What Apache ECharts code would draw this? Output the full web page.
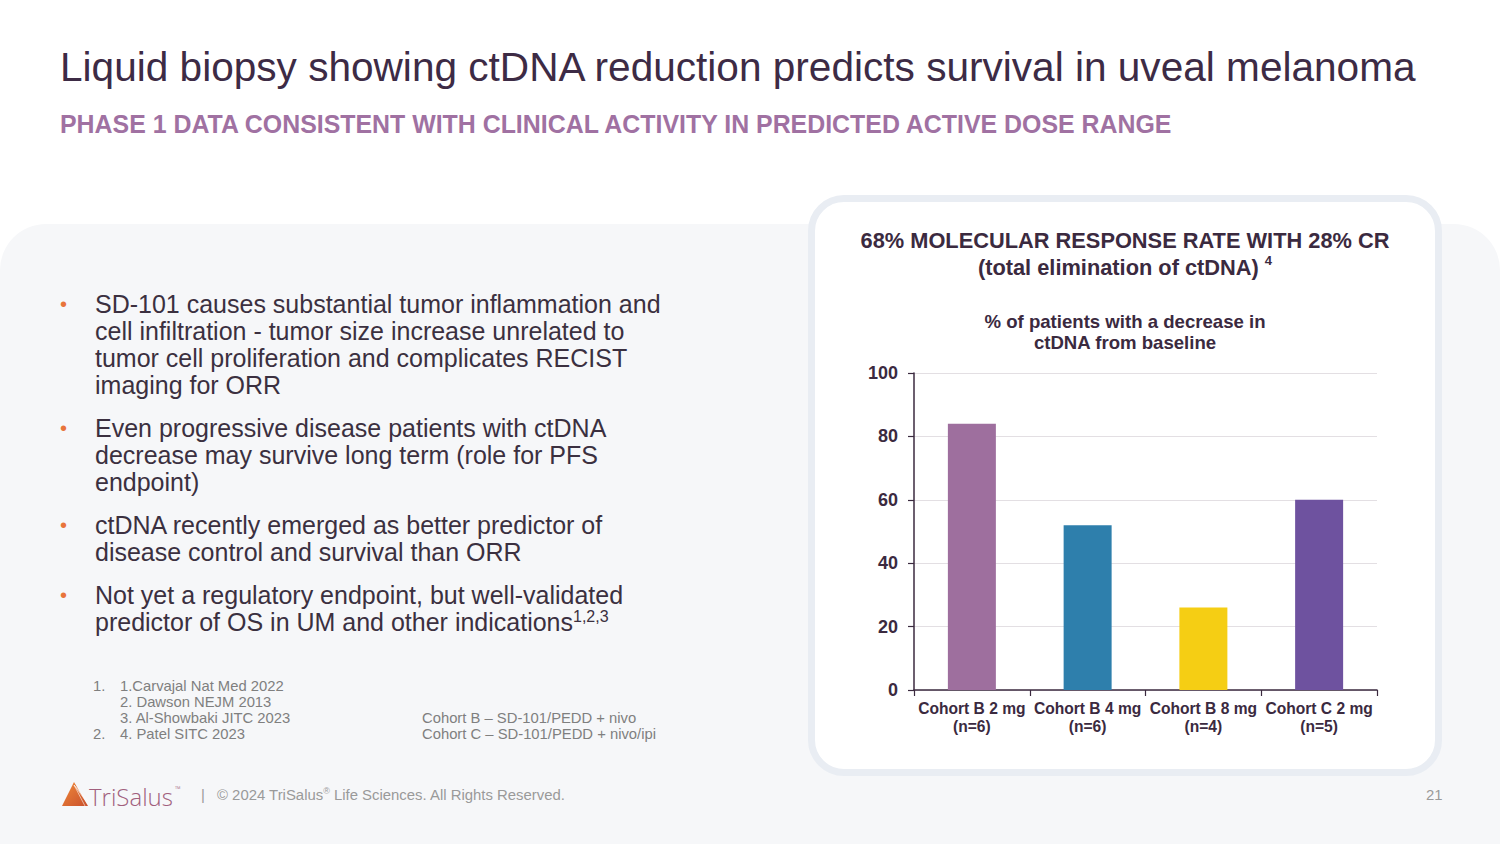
<!DOCTYPE html>
<html>
<head>
<meta charset="utf-8">
<script src="https://cdn.jsdelivr.net/npm/echarts@6/dist/echarts.min.js"></script>
<style>
  html, body { margin:0; padding:0; }
  body { width:1500px; height:844px; position:relative; overflow:hidden; background:#ffffff; font-family:"Liberation Sans", Arial, sans-serif; }
  .panel { position:absolute; left:0; top:224px; width:1500px; height:660px; background:#f6f7f9; border-radius:46px 46px 0 0; }
  .card { position:absolute; left:808px; top:195px; width:620px; height:567px; background:#ffffff; border:7px solid #e9edf3; border-radius:36px; }
  .title { position:absolute; left:60px; top:44px; font-size:40.6px; color:#3d2b45; white-space:nowrap; }
  .subtitle { position:absolute; left:60px; top:110px; font-size:24.9px; font-weight:bold; color:#a071a2; white-space:nowrap; letter-spacing:0px; }
  .bullets { position:absolute; left:60px; top:291px; width:700px; font-size:25px; line-height:27px; color:#3b3040; white-space:nowrap; }
  .b { position:relative; padding-left:35px; margin-bottom:16px; }
  .b::before { content:"•"; position:absolute; left:0; top:0; color:#e8743b; font-size:20px; }
  sup { font-size:16px; line-height:0; vertical-align:9px; }
  .fn { position:absolute; font-size:14.8px; line-height:16px; color:#7f7f7f; white-space:nowrap; }
  .footer { position:absolute; top:787px; font-size:14.9px; color:#9a9a9a; white-space:nowrap; }
  #chart { position:absolute; left:815px; top:200px; width:620px; height:568px; }
</style>
</head>
<body>
<div class="panel"></div>
<div class="card"></div>
<div class="title">Liquid biopsy showing ctDNA reduction predicts survival in uveal melanoma</div>
<div class="subtitle">PHASE 1 DATA CONSISTENT WITH CLINICAL ACTIVITY IN PREDICTED ACTIVE DOSE RANGE</div>
<div class="bullets">
  <div class="b">SD-101 causes substantial tumor inflammation and<br>cell infiltration - tumor size increase unrelated to<br>tumor cell proliferation and complicates RECIST<br>imaging for ORR</div>
  <div class="b">Even progressive disease patients with ctDNA<br>decrease may survive long term (role for PFS<br>endpoint)</div>
  <div class="b">ctDNA recently emerged as better predictor of<br>disease control and survival than ORR</div>
  <div class="b">Not yet a regulatory endpoint, but well-validated<br>predictor of OS in UM and other indications<sup>1,2,3</sup></div>
</div>
<div class="fn" style="left:93px; top:678px;">1.</div>
<div class="fn" style="left:120px; top:678px;">1.Carvajal Nat Med 2022<br>2. Dawson NEJM 2013<br>3. Al-Showbaki JITC 2023<br>4. Patel SITC 2023</div>
<div class="fn" style="left:93px; top:726px;">2.</div>
<div class="fn" style="left:422px; top:710px;">Cohort B – SD-101/PEDD + nivo<br>Cohort C – SD-101/PEDD + nivo/ipi</div>

<svg style="position:absolute; left:61px; top:781px;" width="30" height="28" viewBox="0 0 30 28">
  <defs>
    <linearGradient id="lg" x1="0" y1="0" x2="1" y2="1">
      <stop offset="0" stop-color="#f08a3a"/>
      <stop offset="1" stop-color="#c9502c"/>
    </linearGradient>
  </defs>
  <polygon points="13,1 27,25 1,25" fill="url(#lg)"/>
  <line x1="13" y1="4" x2="27" y2="20" stroke="#ffffff" stroke-width="0.8" opacity="0.7"/>
  <line x1="13" y1="4" x2="27" y2="23" stroke="#ffffff" stroke-width="0.8" opacity="0.7"/>
  <line x1="13" y1="4" x2="24" y2="25" stroke="#ffffff" stroke-width="0.8" opacity="0.7"/>
</svg>
<div style="position:absolute; left:89px; top:780px; font-size:24px; color:#a15f7d; font-family:'Open Sans','Liberation Sans',sans-serif; font-weight:300; white-space:nowrap;">TriSalus<span style="font-size:8px; vertical-align:14px; margin-left:2px;">™</span></div>
<div class="footer" style="left:201px;">|</div>
<div class="footer" style="left:217px;">© 2024 TriSalus<sup style="font-size:9px; vertical-align:6px;">®</sup> Life Sciences. All Rights Reserved.</div>
<div class="footer" style="left:1426px;">21</div>

<div id="chart"></div>
<script>
  var categories = ['Cohort B 2 mg\n(n=6)', 'Cohort B 4 mg\n(n=6)', 'Cohort B 8 mg\n(n=4)', 'Cohort C 2 mg\n(n=5)'];
  var values = [84, 52, 26, 60];
  var barColors = ['#9e6f9e', '#2e7fac', '#f5ce14', '#6e529f'];
  var yTicks = [0, 20, 40, 60, 80, 100];

  var chart = echarts.init(document.getElementById('chart'), null, { renderer: 'svg' });
  var dark = '#3b2a3f';
  chart.setOption({
    backgroundColor: 'transparent',
    animation: false,
    title: [
      {
        text: '68% MOLECULAR RESPONSE RATE WITH 28% CR\n(total elimination of ctDNA) {sup|4}',
        left: 310, top: 27, textAlign: 'center', padding: 0,
        textStyle: {
          fontFamily: 'Liberation Sans', fontSize: 21.8, fontWeight: 'bold', color: dark, lineHeight: 27, align: 'center',
          rich: { sup: { fontSize: 13, fontWeight: 'bold', color: dark, verticalAlign: 'top', lineHeight: 20, padding: [0, 0, 4, 0] } }
        }
      },
      {
        text: '% of patients with a decrease in\nctDNA from baseline',
        left: 310, top: 111, textAlign: 'center', padding: 0,
        textStyle: { fontFamily: 'Liberation Sans', fontSize: 18.6, fontWeight: 'bold', color: dark, lineHeight: 21, align: 'center' }
      }
    ],
    grid: { left: 99, top: 173, width: 463, height: 317 },
    xAxis: {
      type: 'category',
      data: categories,
      boundaryGap: true,
      axisLine: { show: true, lineStyle: { color: dark, width: 1.5 } },
      axisTick: { show: true, length: 6, lineStyle: { color: dark, width: 1.2 } },
      axisLabel: { fontFamily: 'Liberation Sans', fontSize: 15.6, fontWeight: 'bold', color: dark, lineHeight: 18, margin: 9, interval: 0 }
    },
    yAxis: {
      type: 'value',
      min: 0, max: 100, interval: 20,
      axisLine: { show: true, lineStyle: { color: dark, width: 1.5 } },
      axisTick: { show: true, length: 6, lineStyle: { color: dark, width: 1.2 } },
      axisLabel: {
        fontFamily: 'Liberation Sans', fontSize: 18, fontWeight: 'bold', color: dark, margin: 16,
        formatter: function (v) { return yTicks.indexOf(v) >= 0 ? String(v) : ''; }
      },
      splitLine: { show: true, lineStyle: { color: '#e3dfe3', width: 1 } }
    },
    series: [{
      type: 'bar',
      barWidth: 48,
      data: values.map(function (v, i) { return { value: v, itemStyle: { color: barColors[i] } }; })
    }]
  });
</script>
</body>
</html>
